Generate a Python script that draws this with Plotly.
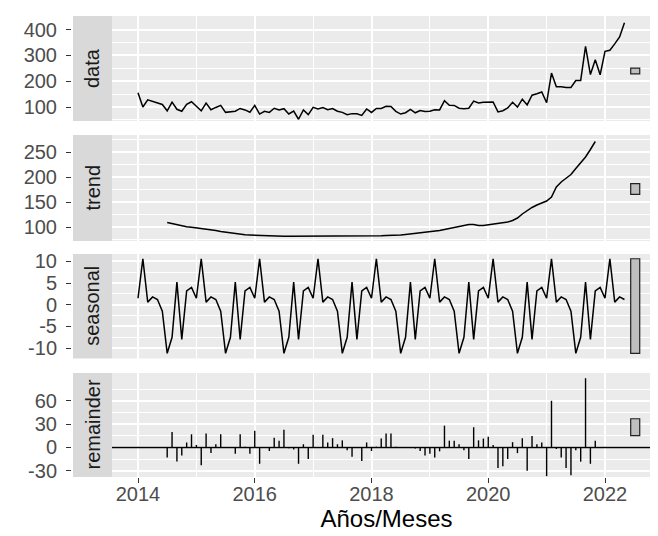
import plotly.graph_objects as go

# ---------------- data (monthly, Jan 2014 - May 2022) ----------------
start_year = 2014
freq = 12

data_values = [
    155, 100, 128, 122, 116, 110,
    85.4, 119.0, 91.2, 83.5, 110.1, 120.4,
    103.2, 85.3, 114.9, 89.5, 98.3, 106.4,
    79.2, 80.5, 83.5, 94.4, 88.7, 79.8,
    106.5, 72.6, 83.6, 79.2, 95.0, 88.7,
    93.5, 73.0, 84.0, 52.5, 88.8, 70.5,
    98.9, 92.1, 98.0, 89.2, 94.1, 83.6,
    79.3, 69.8, 74.3, 74.0, 67.3, 92.4,
    78.9, 94.1, 94.5, 102.6, 102.0, 83.0,
    72.7, 77.8, 90.4, 77.5, 86.6, 82.5,
    83.3, 89.3, 88.6, 124.8, 106.9, 106.2,
    95.3, 92.8, 95.2, 123.0, 115.3, 118.4,
    119.7, 119.8, 81.1, 85.6, 96.2, 118.3,
    99.9, 130.4, 108.2, 145.6, 151.3, 158.4,
    116.5, 231.6, 178.6, 179.0, 176.0, 176.0,
    202.5, 203.0, 335.0, 226.0, 283.0, 225.0,
    316.0, 320.0, 345.0, 372.0, 427.0,
]

# trend and remainder: Jul 2014 - Nov 2021 (first/last half year missing)
trend_offset = 6
trend_values = [
    109, 106.5, 104, 102, 100.5, 99.5,
    98.5, 97.5, 96.5, 95, 93, 91,
    89.5, 88, 86.5, 85.5, 84.5, 84,
    83.5, 83, 82.5, 82, 81.5, 81.5,
    81.5, 81.5, 81.5, 81.5, 81.5, 81.5,
    81, 81, 81, 81, 81, 81,
    81, 81, 81, 81.5, 81.5, 82,
    82, 82.5, 82.5, 83, 83, 83.5,
    84, 85, 86, 87, 88, 89,
    90, 91.5, 93, 95, 97, 99,
    102, 104, 105, 105, 103, 103,
    104.5, 106, 107, 108, 110, 113,
    118, 126, 133, 139, 144, 148,
    152, 160, 180, 190, 197, 205,
    217, 229, 240, 255, 271,
]

remainder_values = [
    -12.8, 20, -18, -10.5, 6.4, 16.9,
    3.2, -22.8, 17.8, -7.3, 4.1, 16.9,
    0.5, 0, -8.2, 16.9, 1, -8.2,
    21.5, -21, 0.5, -4.6, 12.3, 8.7,
    22.8, -1, -2.7, -21, 4.1, -15,
    16.4, 0.5, 16.4, 6.4, 11.9, 4.1,
    9.1, -3.7, -11.9, 0.5, -17.4, 6.4,
    -4.6, 1, 11.4, 17.8, 17.8, 1,
    -0.5, 0.3, -0.8, -1.5, -4.6, -10.5,
    -8.2, -12.8, -5, 28, 8.7, 8.7,
    4.1, -3.7, -15, 26, 9.1, 11.4,
    13.7, 3.2, -26.5, -24.2, -15, 6.8,
    -7.3, 11.9, -30, 14.6, 4.1, 6.4,
    -37, 60, -2, -12.8, -26.5, -35.6,
    -3.7, -18.3, 89, -21, 8.7,
]

# seasonal figure, Jan..Dec (same every year)
seasonal_figure = [1.5, 10.6, 0.6, 1.8, 1.2, -1.5, -11.2, -7.5, 5.2, -8.0, 3.2, 4.0]

panel_names = ["data", "trend", "seasonal", "remainder"]

x_tick_vals = [2014, 2016, 2018, 2020, 2022]
x_tick_text = ["2014", "2016", "2018", "2020", "2022"]
x_minor_vals = [2015, 2017, 2019, 2021]

data_ticks = [100, 200, 300, 400]
data_minor = [50, 150, 250, 350, 450]
trend_ticks = [100, 150, 200, 250]
trend_minor = [75, 125, 175, 225, 275]
seasonal_ticks = [-10, -5, 0, 5, 10]
seasonal_tick_text = ["-10", "-5", "0", "5", "10"]
seasonal_minor = [-7.5, -2.5, 2.5, 7.5]
remainder_ticks = [-30, 0, 30, 60]
remainder_tick_text = ["-30", "0", "30", "60"]
remainder_minor = [-15, 15, 45, 75]

x_title = "Años/Meses"

# ---------------- derived series ----------------
n = len(data_values)
x_all = [start_year + i / freq for i in range(n)]
x_trend = x_all[trend_offset:trend_offset + len(trend_values)]
seasonal_values = [seasonal_figure[i % freq] for i in range(n)]

# ---------------- style / layout ----------------
W, H = 658, 536
ML, MR, MT, MB = 63, 5, 8, 67
PW = W - ML - MR
PH = H - MT - MB
panel_left_px = 104
strip_left_px = 65
x_dom0 = (panel_left_px - ML) / PW

# panel pixel extents (top, bottom)
panel_px = [(8, 113), (127, 233), (246, 350.5), (365, 469)]
y_domains = [[(H - MB - b) / PH, (H - MB - t) / PH] for (t, b) in panel_px]
y_domains[0][1] = 1.0
y_domains[3][0] = 0.0

y_ranges = [[45.7, 453], [72, 284], [-12.4, 11.7], [-38, 95.7]]
x_range = [2013.5546, 2022.9593]

FONT = "Liberation Sans, Arial, sans-serif"
TICK_COLOR = "#4D4D4D"
PANEL_BG = "#EBEBEB"
STRIP_BG = "#D9D9D9"
LINE_W = 1.5

fig = go.Figure()

fig.add_trace(go.Scatter(x=x_all, y=data_values, mode="lines",
                         line=dict(color="black", width=LINE_W),
                         xaxis="x", yaxis="y", showlegend=False))
fig.add_trace(go.Scatter(x=x_trend, y=trend_values, mode="lines",
                         line=dict(color="black", width=LINE_W),
                         xaxis="x2", yaxis="y2", showlegend=False))
fig.add_trace(go.Scatter(x=x_all, y=seasonal_values, mode="lines",
                         line=dict(color="black", width=LINE_W),
                         xaxis="x3", yaxis="y3", showlegend=False))

# remainder as vertical segments from 0
seg_x, seg_y = [], []
for xv, rv in zip(x_trend, remainder_values):
    seg_x += [xv, xv, None]
    seg_y += [0, rv, None]
fig.add_trace(go.Scatter(x=seg_x, y=seg_y, mode="lines",
                         line=dict(color="black", width=1.4),
                         xaxis="x4", yaxis="y4", showlegend=False))

series_list = [data_values, trend_values, seasonal_values, remainder_values]
ranges_list = [max(s) - min(s) for s in series_list]
bar_height = min(ranges_list)
bar_x0, bar_x1 = 2022.44, 2022.595

tick_sets = [
    (data_ticks, [str(v) for v in data_ticks], data_minor),
    (trend_ticks, [str(v) for v in trend_ticks], trend_minor),
    (seasonal_ticks, seasonal_tick_text, seasonal_minor),
    (remainder_ticks, remainder_tick_text, remainder_minor),
]

layout = dict(
    width=W, height=H,
    margin=dict(l=ML, r=MR, t=MT, b=MB),
    paper_bgcolor="white",
    plot_bgcolor=PANEL_BG,
    font=dict(family=FONT, size=20, color=TICK_COLOR),
    showlegend=False,
)

shapes = []
annotations = []
for i in range(4):
    sfx = "" if i == 0 else str(i + 1)
    xa = "xaxis" + sfx
    ya = "yaxis" + sfx
    bottom = (i == 3)
    layout[xa] = dict(
        domain=[x_dom0, 1], anchor="y" + sfx, range=x_range,
        tickmode="array", tickvals=x_tick_vals, ticktext=x_tick_text,
        showticklabels=bottom,
        ticks="outside" if bottom else "", ticklen=5, tickwidth=1.1, tickcolor="#333333",
        showgrid=True, gridcolor="white", gridwidth=1.5,
        minor=dict(tickvals=x_minor_vals, showgrid=True, gridcolor="white", gridwidth=0.8),
        zeroline=False, showline=False,
        tickfont=dict(size=20, color=TICK_COLOR, family=FONT),
    )
    if bottom:
        layout[xa]["ticklabelstandoff"] = -6
        layout[xa]["title"] = dict(text=x_title, font=dict(size=24, color="black", family=FONT), standoff=0)
    tv, tt, mv = tick_sets[i]
    layout[ya] = dict(
        domain=y_domains[i], anchor="free", position=0, range=y_ranges[i],
        tickmode="array", tickvals=tv, ticktext=tt,
        ticks="outside", ticklen=5, tickwidth=1.1, tickcolor="#333333",
        showgrid=True, gridcolor="white", gridwidth=1.5,
        minor=dict(tickvals=mv, showgrid=True, gridcolor="white", gridwidth=0.8),
        zeroline=False, showline=False,
        tickfont=dict(size=20, color=TICK_COLOR, family=FONT),
        ticklabelstandoff=5,
    )
    # strip
    shapes.append(dict(type="rect", xref="paper", yref="y" + sfx + " domain",
                       x0=(strip_left_px - ML) / PW, x1=x_dom0, y0=0, y1=1,
                       fillcolor=STRIP_BG, line=dict(width=0), layer="above"))
    annotations.append(dict(text=panel_names[i], xref="paper", yref="y" + sfx + " domain",
                            x=((strip_left_px + panel_left_px) / 2 - ML) / PW, y=0.5,
                            textangle=-90, showarrow=False,
                            font=dict(size=20, color="#1A1A1A", family=FONT),
                            xanchor="center", yanchor="middle"))
    # range bar
    s = series_list[i]
    mid = (max(s) + min(s)) / 2
    shapes.append(dict(type="rect", xref="x" + sfx, yref="y" + sfx,
                       x0=bar_x0, x1=bar_x1, y0=mid - bar_height / 2, y1=mid + bar_height / 2,
                       fillcolor="#BFBFBF", line=dict(color="#222222", width=1.2), layer="above"))

# zero line in remainder panel
shapes.append(dict(type="line", xref="x4 domain", yref="y4", x0=0, x1=1, y0=0, y1=0,
                   line=dict(color="black", width=1.5), layer="above"))

layout["shapes"] = shapes
layout["annotations"] = annotations
fig.update_layout(**layout)

fig.write_html("out.html")
